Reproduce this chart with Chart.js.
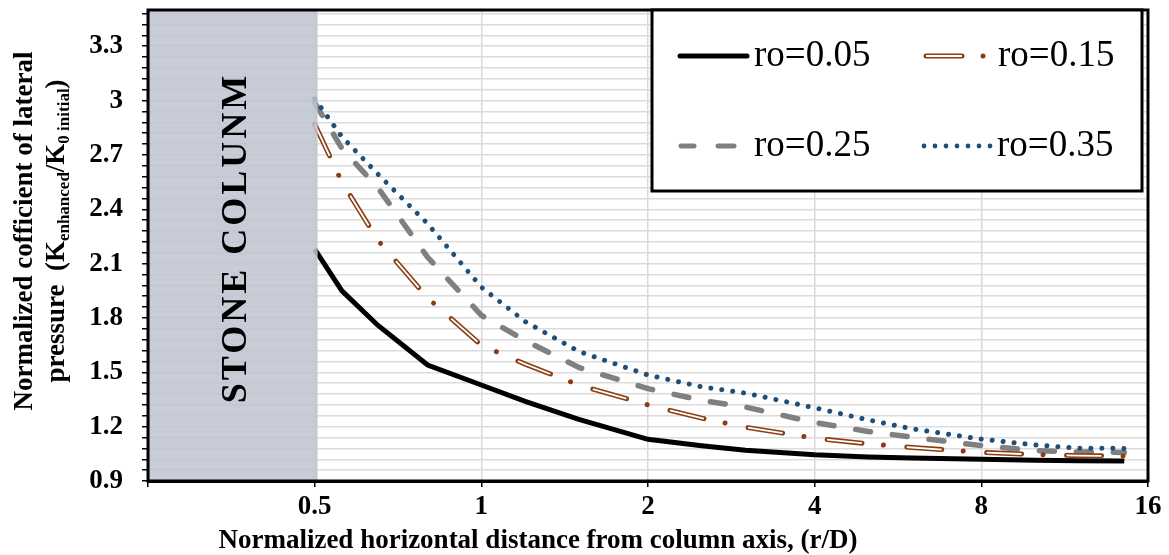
<!DOCTYPE html>
<html>
<head>
<meta charset="utf-8">
<script src="https://cdn.jsdelivr.net/npm/chart.js@4.4.0/dist/chart.umd.min.js"></script>
<style>
  html, body { margin: 0; padding: 0; background: #fff; }
</style>
</head>
<body>
<canvas id="kChart" width="1169" height="555"></canvas>
<script>
// r/D positions
const rD = [0.5, 0.56, 0.65, 0.8, 1.0, 1.2, 1.5, 2, 2.5, 3, 4, 5, 6, 8, 10, 12, 14.5];
const ro005 = [2.18, 1.95, 1.76, 1.54, 1.43, 1.34, 1.24, 1.13, 1.095, 1.07, 1.045, 1.033, 1.027, 1.02, 1.015, 1.012, 1.01];
const ro015 = [2.87, 2.55, 2.23, 1.91, 1.65, 1.545, 1.43, 1.32, 1.247, 1.197, 1.136, 1.105, 1.085, 1.058, 1.046, 1.04, 1.038];
const ro025 = [2.99, 2.735, 2.52, 2.135, 1.815, 1.675, 1.527, 1.41, 1.345, 1.308, 1.223, 1.173, 1.142, 1.095, 1.068, 1.06, 1.058];
const ro035 = [3.01, 2.80, 2.595, 2.32, 1.97, 1.78, 1.615, 1.485, 1.42, 1.385, 1.304, 1.237, 1.188, 1.131, 1.099, 1.081, 1.08];
const seriesNames = ['ro=0.05', 'ro=0.15', 'ro=0.25', 'ro=0.35'];

const xTicks = [0.25, 0.5, 1, 2, 4, 8, 16];
const xLabels = ['', '0.5', '1', '2', '4', '8', '16'];
const yLabels = [0.9, 1.2, 1.5, 1.8, 2.1, 2.4, 2.7, 3.0, 3.3];
const yMin = 0.9, yMax = 3.5, yMinorStep = 0.06;

const SERIF = '"Liberation Serif", "Times New Roman", serif';
const BROWN = '#8a3d0f';
const GREY = '#808080';
const BLUE = '#1f4e79';

const pts = ys => rD.map((x, i) => ({ x: x, y: ys[i] }));

// grey stone column + its label
const columnPlugin = {
  id: 'stoneColumn',
  afterDatasetsDraw(chart) {
    const { ctx, chartArea: a, scales } = chart;
    const x0 = scales.x.getPixelForValue(0.25);
    const x1 = scales.x.getPixelForValue(0.5) + 3;
    ctx.save();
    ctx.fillStyle = 'rgba(190,196,208,0.86)';
    ctx.fillRect(x0, a.top, x1 - x0, a.bottom - a.top);
    ctx.translate(246, 238);
    ctx.rotate(-Math.PI / 2);
    ctx.font = 'bold 36px ' + SERIF;
    ctx.letterSpacing = '3px';
    ctx.fillStyle = '#000';
    ctx.textAlign = 'center';
    ctx.textBaseline = 'alphabetic';
    ctx.fillText('STONE COLUNM', 0, 0);
    ctx.restore();
  }
};

// frame, axis titles, legend box
const decorPlugin = {
  id: 'decor',
  afterDraw(chart) {
    const { ctx, chartArea: a } = chart;
    ctx.save();
    ctx.strokeStyle = '#000';
    ctx.lineWidth = 3;
    ctx.strokeRect(a.left, a.top, a.right - a.left, a.bottom - a.top);

    ctx.fillStyle = '#000';
    ctx.font = 'bold 27px ' + SERIF;
    ctx.textAlign = 'center';
    ctx.textBaseline = 'middle';
    ctx.fillText('Normalized horizontal distance from column axis, (r/D)', 538, 541);

    // y title, line 1
    ctx.save();
    ctx.translate(32, 231);
    ctx.rotate(-Math.PI / 2);
    ctx.textBaseline = 'alphabetic';
    ctx.fillText('Normalized cofficient of lateral', 0, 0);
    ctx.restore();

    // y title, line 2 with subscripts
    ctx.save();
    ctx.translate(64, 231);
    ctx.rotate(-Math.PI / 2);
    ctx.textAlign = 'left';
    ctx.textBaseline = 'alphabetic';
    const big = 'bold 27px ' + SERIF, small = 'bold 17px ' + SERIF;
    const parts = [
      ['pressure  (K', big, 0], ['enhanced', small, 5], ['/K', big, 0],
      ['0 initial', small, 5], [')', big, 0]
    ];
    let total = 0;
    parts.forEach(p => { ctx.font = p[1]; total += ctx.measureText(p[0]).width; });
    let cx = -total / 2;
    parts.forEach(p => {
      ctx.font = p[1];
      ctx.fillText(p[0], cx, p[2]);
      cx += ctx.measureText(p[0]).width;
    });
    ctx.restore();

    // legend
    const L = 652, T = 10, R = 1142, B = 191;
    ctx.fillStyle = '#fff';
    ctx.fillRect(L, T, R - L, B - T);
    ctx.lineWidth = 3;
    ctx.strokeStyle = '#000';
    ctx.strokeRect(L, T, R - L, B - T);

    const r1 = 56, r2 = 146;
    ctx.lineCap = 'round';
    // solid black
    ctx.strokeStyle = '#000';
    ctx.lineWidth = 5;
    ctx.beginPath(); ctx.moveTo(680, r1); ctx.lineTo(747, r1); ctx.stroke();
    // hollow brown dash + dot
    ctx.strokeStyle = BROWN;
    ctx.beginPath(); ctx.moveTo(926, r1); ctx.lineTo(962, r1); ctx.stroke();
    ctx.lineCap = 'butt';
    ctx.strokeStyle = '#fff';
    ctx.lineWidth = 2;
    ctx.beginPath(); ctx.moveTo(926, r1); ctx.lineTo(962, r1); ctx.stroke();
    ctx.fillStyle = BROWN;
    ctx.beginPath(); ctx.arc(983, r1, 2.5, 0, Math.PI * 2); ctx.fill();
    // grey dashes
    ctx.lineCap = 'round';
    ctx.strokeStyle = GREY;
    ctx.lineWidth = 5;
    ctx.beginPath(); ctx.moveTo(681, r2); ctx.lineTo(694, r2); ctx.stroke();
    ctx.beginPath(); ctx.moveTo(718, r2); ctx.lineTo(734, r2); ctx.stroke();
    // blue dots
    ctx.fillStyle = BLUE;
    for (let i = 0; i < 7; i++) {
      ctx.beginPath(); ctx.arc(924 + i * 11, r2, 2.4, 0, Math.PI * 2); ctx.fill();
    }

    ctx.fillStyle = '#000';
    ctx.font = '37px ' + SERIF;
    ctx.textAlign = 'left';
    ctx.textBaseline = 'middle';
    ctx.fillText(seriesNames[0], 754, r1);
    ctx.fillText(seriesNames[1], 998, r1);
    ctx.fillText(seriesNames[2], 754, r2);
    ctx.fillText(seriesNames[3], 997, r2);
    ctx.restore();
  }
};

new Chart(document.getElementById('kChart'), {
  type: 'line',
  data: {
    datasets: [
      { label: seriesNames[0], data: pts(ro005), borderColor: '#000', borderWidth: 5, order: 5 },
      { label: seriesNames[1], data: pts(ro015), borderColor: BROWN, borderWidth: 5,
        borderDash: [35, 21.5, 0.01, 23.5], borderCapStyle: 'round', order: 2 },
      { label: seriesNames[1] + ' core', data: pts(ro015), borderColor: '#fff', borderWidth: 1.8,
        borderDash: [35, 45], borderCapStyle: 'butt', order: 1 },
      { label: seriesNames[2], data: pts(ro025), borderColor: GREY, borderWidth: 5.5,
        borderDash: [15, 22], borderCapStyle: 'round', order: 4 },
      { label: seriesNames[3], data: pts(ro035), borderColor: BLUE, borderWidth: 5,
        borderDash: [0.01, 11], borderCapStyle: 'round', order: 3 }
    ]
  },
  options: {
    responsive: false,
    animation: false,
    devicePixelRatio: 1,
    layout: { padding: { left: 0, right: 21, top: 10, bottom: 0 } },
    elements: {
      point: { radius: 0 },
      line: { tension: 0, fill: false }
    },
    plugins: {
      legend: { display: false },
      tooltip: { enabled: false }
    },
    scales: {
      x: {
        type: 'logarithmic',
        min: 0.25,
        max: 16,
        afterBuildTicks: axis => { axis.ticks = xTicks.map(v => ({ value: v })); },
        afterFit: s => { s.height = 74; s.paddingLeft = 0; s.paddingRight = 0; },
        ticks: {
          autoSkip: false,
          maxRotation: 0,
          padding: 4,
          color: '#000',
          font: { family: SERIF, size: 27, weight: 'bold' },
          callback: v => xLabels[xTicks.indexOf(v)] ?? ''
        },
        grid: { color: '#d9d9d9', lineWidth: 1.5, tickColor: '#000', tickLength: 6, tickWidth: 1.5 },
        border: { color: '#000', width: 3 }
      },
      y: {
        min: yMin,
        max: yMax,
        afterBuildTicks: axis => {
          const t = [];
          for (let v = yMin; v < yMax - 1e-6; v += yMinorStep) t.push({ value: +v.toFixed(2) });
          axis.ticks = t;
        },
        afterFit: s => { s.width = 148; s.paddingTop = 0; s.paddingBottom = 0; },
        ticks: {
          autoSkip: false,
          padding: 19,
          color: '#000',
          font: { family: SERIF, size: 27, weight: 'bold' },
          callback: v => {
            const m = yLabels.find(l => Math.abs(l - v) < 1e-6);
            return m === undefined ? '' : String(m);
          }
        },
        grid: { color: '#dcdcdc', lineWidth: 1.5, tickColor: '#000', tickLength: 6, tickWidth: 1.5 },
        border: { color: '#000', width: 3 }
      }
    }
  },
  plugins: [columnPlugin, decorPlugin]
});
</script>
</body>
</html>
